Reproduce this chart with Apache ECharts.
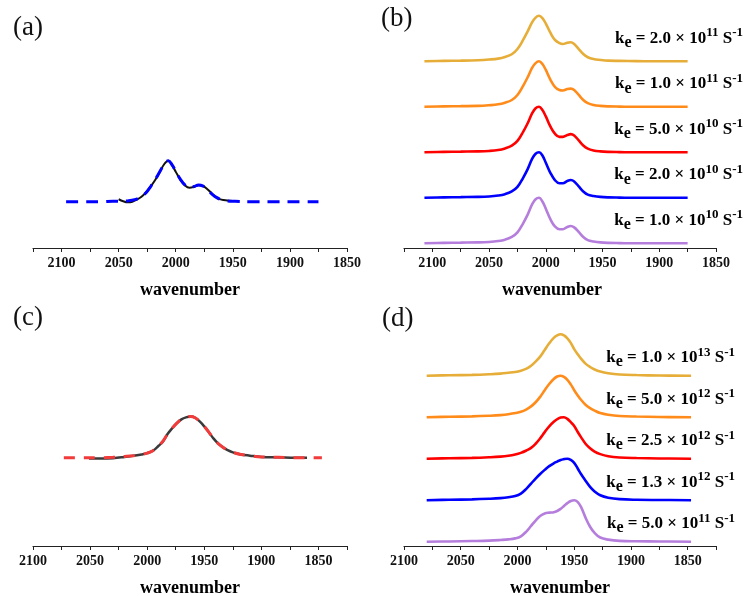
<!DOCTYPE html>
<html>
<head>
<meta charset="utf-8">
<script src="https://cdn.jsdelivr.net/npm/echarts@6/dist/echarts.min.js"></script>
<style>
html, body { margin: 0; padding: 0; background: #fff; }
#main { width: 747px; height: 596px; }
</style>
</head>
<body>
<div id="main"></div>
<script>
// (a) 实验谱 与 拟合
var waveExpA = [2050, 2046, 2042, 2038, 2034, 2030, 2026, 2022, 2018, 2014, 2010, 2006.5, 2003, 2000, 1996, 1992, 1988, 1984, 1980, 1976, 1972, 1968, 1964, 1960, 1955, 1950];
var expA = [0.06, 0.01, -0.015, 0.0, 0.05, 0.12, 0.23, 0.37, 0.53, 0.72, 0.92, 1.0, 0.88, 0.73, 0.54, 0.40, 0.34, 0.36, 0.40, 0.38, 0.30, 0.19, 0.10, 0.05, 0.03, 0.02];
var waveFitA = [2096, 2080, 2065, 2055, 2048, 2042, 2036, 2030, 2026, 2022, 2018, 2014, 2010, 2006.5, 2003, 2000, 1996, 1992, 1988, 1984, 1980, 1976, 1972, 1968, 1964, 1960, 1955, 1948, 1935, 1915, 1895, 1875];
var fitA = [0.0, 0.0, 0.0, 0.01, 0.01, 0.02, 0.05, 0.12, 0.22, 0.37, 0.54, 0.73, 0.92, 1.0, 0.89, 0.74, 0.55, 0.41, 0.35, 0.37, 0.41, 0.38, 0.29, 0.18, 0.10, 0.05, 0.02, 0.01, 0.0, 0.0, 0.0, 0.0];

// (c) 实验谱 与 拟合
var waveExpC = [2051, 2040, 2030, 2020, 2012, 2005, 2000, 1995, 1990, 1986, 1982, 1978, 1974, 1970, 1966, 1962, 1958, 1954, 1950, 1946, 1942, 1938, 1934, 1930, 1925, 1918, 1910, 1900, 1885, 1870, 1860];
var expC = [-0.02, -0.02, -0.01, 0.02, 0.05, 0.08, 0.11, 0.17, 0.29, 0.40, 0.58, 0.72, 0.84, 0.93, 0.98, 1.0, 0.97, 0.88, 0.76, 0.62, 0.47, 0.35, 0.26, 0.19, 0.13, 0.08, 0.05, 0.02, 0.01, 0.0, 0.0];
var waveFitC = [2073, 2060, 2045, 2030, 2020, 2012, 2005, 2000, 1995, 1990, 1986, 1982, 1978, 1974, 1970, 1966, 1962, 1958, 1954, 1950, 1946, 1942, 1938, 1934, 1930, 1925, 1918, 1910, 1900, 1885, 1870, 1847];
var fitC = [0.0, 0.0, 0.0, 0.01, 0.03, 0.05, 0.08, 0.11, 0.17, 0.29, 0.41, 0.58, 0.72, 0.84, 0.93, 0.98, 1.0, 0.97, 0.88, 0.76, 0.62, 0.47, 0.35, 0.26, 0.19, 0.13, 0.08, 0.05, 0.02, 0.01, 0.0, 0.0];

// (b) 不同 ke 的模拟谱 (从上到下)
var waveB = [2107, 2090, 2075, 2060, 2050, 2042, 2036, 2030, 2025, 2020, 2016, 2012, 2009, 2006, 2003, 2000, 1996, 1992, 1988, 1985, 1981, 1978, 1975, 1971, 1967, 1963, 1958, 1952, 1945, 1935, 1920, 1900, 1875];
var b1 = [0.00, 0.01, 0.015, 0.025, 0.04, 0.06, 0.095, 0.155, 0.27, 0.47, 0.66, 0.86, 0.96, 1.00, 0.95, 0.83, 0.63, 0.47, 0.40, 0.38, 0.41, 0.42, 0.38, 0.27, 0.16, 0.09, 0.05, 0.03, 0.015, 0.01, 0.005, 0.0, 0.0];
var b2 = [0.00, 0.01, 0.015, 0.02, 0.035, 0.055, 0.09, 0.15, 0.26, 0.46, 0.65, 0.86, 0.96, 1.00, 0.94, 0.81, 0.60, 0.44, 0.37, 0.36, 0.39, 0.40, 0.37, 0.26, 0.15, 0.08, 0.04, 0.02, 0.01, 0.005, 0.0, 0.0, 0.0];
var b3 = [0.00, 0.01, 0.015, 0.02, 0.03, 0.05, 0.085, 0.145, 0.25, 0.45, 0.64, 0.86, 0.97, 1.00, 0.93, 0.79, 0.57, 0.41, 0.34, 0.34, 0.38, 0.40, 0.37, 0.26, 0.15, 0.08, 0.04, 0.02, 0.01, 0.005, 0.0, 0.0, 0.0];
var b4 = [0.00, 0.01, 0.015, 0.02, 0.03, 0.05, 0.08, 0.14, 0.24, 0.44, 0.63, 0.86, 0.97, 1.00, 0.93, 0.77, 0.55, 0.39, 0.32, 0.32, 0.37, 0.39, 0.36, 0.25, 0.14, 0.07, 0.04, 0.02, 0.01, 0.005, 0.0, 0.0, 0.0];
var b5 = [0.00, 0.01, 0.015, 0.02, 0.03, 0.05, 0.08, 0.14, 0.24, 0.44, 0.63, 0.86, 0.97, 1.00, 0.92, 0.76, 0.53, 0.37, 0.31, 0.31, 0.36, 0.38, 0.35, 0.25, 0.14, 0.07, 0.04, 0.02, 0.01, 0.005, 0.0, 0.0, 0.0];
var keMantB = ['2.0', '1.0', '5.0', '2.0', '1.0'];
var keExpB = ['11', '11', '10', '10', '10'];

// (d) 不同 ke 的模拟谱 (从上到下)
var waveD = [2080, 2060, 2040, 2025, 2015, 2008, 2002, 1997, 1992, 1988, 1984, 1980, 1976, 1972, 1968, 1965, 1962, 1959, 1956, 1953, 1950, 1947, 1944, 1940, 1936, 1932, 1927, 1920, 1910, 1895, 1875, 1847];
var d1 = [0.0, 0.01, 0.02, 0.035, 0.05, 0.07, 0.09, 0.12, 0.17, 0.24, 0.34, 0.46, 0.62, 0.78, 0.91, 0.97, 1.0, 0.97, 0.90, 0.79, 0.64, 0.52, 0.41, 0.29, 0.21, 0.15, 0.10, 0.06, 0.03, 0.015, 0.005, 0.0];
var d2 = [0.0, 0.01, 0.02, 0.035, 0.05, 0.07, 0.10, 0.13, 0.19, 0.26, 0.36, 0.49, 0.65, 0.80, 0.92, 0.98, 1.0, 0.97, 0.90, 0.79, 0.65, 0.53, 0.42, 0.30, 0.22, 0.16, 0.10, 0.06, 0.03, 0.015, 0.005, 0.0];
var d3 = [0.0, 0.01, 0.02, 0.035, 0.05, 0.07, 0.10, 0.14, 0.20, 0.26, 0.36, 0.49, 0.64, 0.78, 0.89, 0.95, 0.99, 1.0, 0.96, 0.88, 0.79, 0.65, 0.52, 0.36, 0.25, 0.17, 0.11, 0.06, 0.03, 0.015, 0.005, 0.0];
var d4 = [0.0, 0.01, 0.02, 0.035, 0.05, 0.07, 0.10, 0.16, 0.28, 0.40, 0.52, 0.63, 0.73, 0.82, 0.89, 0.93, 0.97, 0.99, 1.0, 0.97, 0.90, 0.77, 0.63, 0.47, 0.32, 0.21, 0.12, 0.06, 0.025, 0.01, 0.005, 0.0];
var d5 = [0.0, 0.005, 0.015, 0.025, 0.04, 0.055, 0.08, 0.13, 0.25, 0.38, 0.51, 0.62, 0.68, 0.70, 0.71, 0.74, 0.79, 0.86, 0.93, 0.98, 1.0, 0.96, 0.84, 0.58, 0.36, 0.21, 0.10, 0.05, 0.02, 0.01, 0.005, 0.0];
var keMantD = ['1.0', '5.0', '2.5', '1.3', '5.0'];
var keExpD = ['13', '12', '12', '12', '11'];

var stackOffset = [4, 3, 2, 1, 0];
var stackColors = ['#E6AE38', '#FF8C1A', '#FF0000', '#0000FF', '#B57EDC'];

var serif = '"Liberation Serif", "Times New Roman", serif';

function pairs(xs, ys, off) {
    var out = [];
    for (var i = 0; i < xs.length; i++) {
        out.push([xs[i], ys[i] + (off || 0)]);
    }
    return out;
}

function makeXAxis(idx, min, max, namePad) {
    return {
        gridIndex: idx,
        type: 'value',
        min: min,
        max: max,
        interval: 25,
        inverse: true,
        name: 'wavenumber',
        nameLocation: 'middle',
        nameGap: 33,
        nameTextStyle: { fontFamily: serif, fontWeight: 'bold', fontSize: 18, color: '#000', padding: namePad || 0 },
        axisLine: { onZero: false, lineStyle: { color: '#222', width: 1.2 } },
        axisTick: { length: 4, lineStyle: { color: '#222' } },
        splitLine: { show: false },
        axisLabel: {
            fontFamily: serif, fontWeight: 'bold', fontSize: 14, color: '#111', margin: 8,
            formatter: function (v) { return v % 50 === 0 ? String(v) : ''; }
        }
    };
}

function makeYAxis(idx, min, max) {
    return { gridIndex: idx, type: 'value', min: min, max: max, show: false, splitLine: { show: false } };
}

var series = [];
// (a)
series.push({ type: 'line', xAxisIndex: 0, yAxisIndex: 0, data: pairs(waveExpA, expA), smooth: 0.4, showSymbol: false,
    lineStyle: { color: '#111', width: 2 }, z: 2 });
series.push({ type: 'line', xAxisIndex: 0, yAxisIndex: 0, data: pairs(waveFitA, fitA), smooth: 0.4, showSymbol: false,
    lineStyle: { color: '#0000FF', width: 3, type: [12, 8] }, z: 3 });
// (c)
series.push({ type: 'line', xAxisIndex: 2, yAxisIndex: 2, data: pairs(waveExpC, expC), smooth: 0.4, showSymbol: false,
    lineStyle: { color: '#3a3a3a', width: 2.5 }, z: 2 });
series.push({ type: 'line', xAxisIndex: 2, yAxisIndex: 2, data: pairs(waveFitC, fitC), smooth: 0.4, showSymbol: false,
    lineStyle: { color: '#F23B3B', width: 3, type: [11, 9] }, z: 3 });
// (b) (d)
var specB = [b1, b2, b3, b4, b5];
var specD = [d1, d2, d3, d4, d5];
for (var i = 0; i < 5; i++) {
    series.push({ type: 'line', xAxisIndex: 1, yAxisIndex: 1, data: pairs(waveB, specB[i], stackOffset[i]), smooth: 0.4,
        showSymbol: false, lineStyle: { color: stackColors[i], width: 2.6 } });
    series.push({ type: 'line', xAxisIndex: 3, yAxisIndex: 3, data: pairs(waveD, specD[i], stackOffset[i]), smooth: 0.4,
        showSymbol: false, lineStyle: { color: stackColors[i], width: 2.6 } });
}

var myChart = echarts.init(document.getElementById('main'));

var option = {
    animation: false,
    backgroundColor: '#fff',
    grid: [
        { left: 33, top: 40, width: 314, height: 208, outerBoundsMode: 'none' },
        { left: 404, top: 10, width: 312, height: 238, outerBoundsMode: 'none' },
        { left: 33, top: 338, width: 314, height: 208, outerBoundsMode: 'none' },
        { left: 404, top: 310, width: 312, height: 236, outerBoundsMode: 'none' }
    ],
    xAxis: [
        makeXAxis(0, 1850, 2125),
        makeXAxis(1, 1850, 2125, [0, 16, 0, 0]),
        makeXAxis(2, 1825, 2100),
        makeXAxis(3, 1825, 2100)
    ],
    yAxis: [
        makeYAxis(0, -1.129, 3.944),
        makeYAxis(1, -0.103, 5.128),
        makeYAxis(2, -2.143, 2.906),
        makeYAxis(3, -0.104, 5.583)
    ],
    series: series
};
myChart.setOption(option);

// 标签文字
var rich = {
    k: { fontFamily: serif, fontWeight: 'bold', fontSize: 17, fill: '#000' },
    e: { fontFamily: serif, fontWeight: 'bold', fontSize: 16, fill: '#000', padding: [9, 0, 0, 0] },
    t: { fontFamily: serif, fontWeight: 'bold', fontSize: 17, fill: '#000' },
    s: { fontFamily: serif, fontWeight: 'bold', fontSize: 13, fill: '#000', padding: [0, 0, 11, 0] }
};

function keText(m, p) {
    return '{k|k}{e|e}{t| = ' + m + ' × 10}{s|' + p + '}{t| S}{s|-1}';
}

var graphics = [];
var panelTags = [['(a)', 13, 28], ['(b)', 381, 19], ['(c)', 13, 318], ['(d)', 382, 318.5]];
panelTags.forEach(function (p) {
    graphics.push({ type: 'text', x: p[1], y: p[2],
        style: { text: p[0], font: '27px ' + serif, fill: '#111', verticalAlign: 'middle', align: 'left' } });
});
for (var j = 0; j < 5; j++) {
    var yb = myChart.convertToPixel({ gridIndex: 1 }, [1900, stackOffset[j] + 0.5])[1];
    graphics.push({ type: 'text', x: 743, y: yb,
        style: { text: keText(keMantB[j], keExpB[j]), rich: rich, align: 'right', verticalAlign: 'middle' } });
    var yd = myChart.convertToPixel({ gridIndex: 3 }, [1900, stackOffset[j] + 0.43])[1];
    graphics.push({ type: 'text', x: 735, y: yd,
        style: { text: keText(keMantD[j], keExpD[j]), rich: rich, align: 'right', verticalAlign: 'middle' } });
}
myChart.setOption({ graphic: graphics });
</script>
</body>
</html>
